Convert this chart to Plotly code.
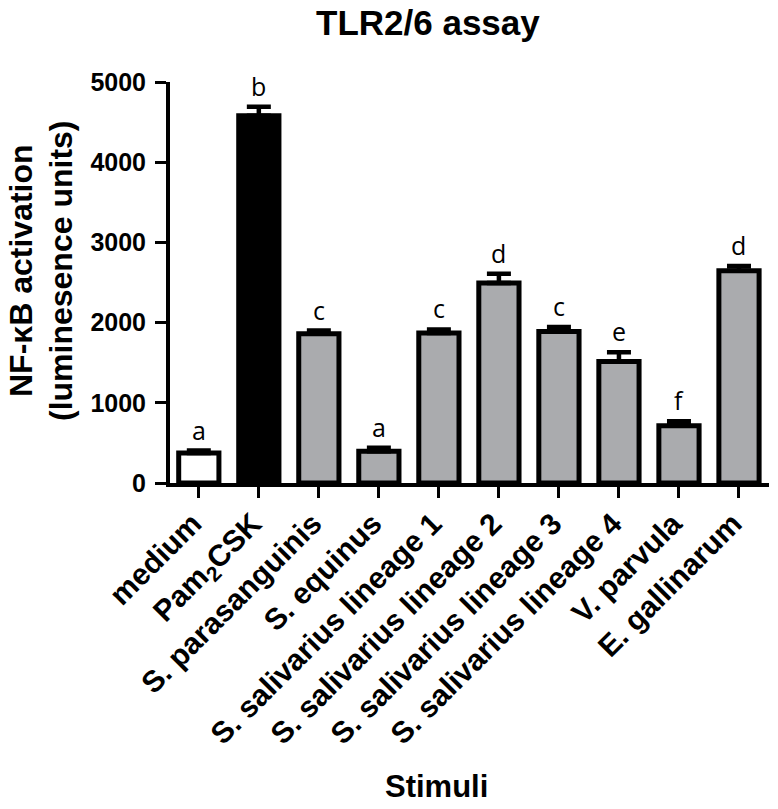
import plotly.graph_objects as go

categories = ["medium", "Pam<sub>2</sub>CSK", "S. parasanguinis", "S. equinus",
              "S. salivarius lineage 1", "S. salivarius lineage 2",
              "S. salivarius lineage 3", "S. salivarius lineage 4",
              "V. parvula", "E. gallinarum"]
values = [375, 4580, 1860, 395, 1870, 2495, 1890, 1515, 715, 2645]
errors = [30, 110, 40, 45, 45, 115, 55, 115, 55, 60]
letters = ["a", "b", "c", "a", "c", "d", "c", "e", "f", "d"]
bar_colors = ["#ffffff", "#000000", "#aaabae", "#aaabae", "#aaabae",
              "#aaabae", "#aaabae", "#aaabae", "#aaabae", "#aaabae"]
y_ticks = [0, 1000, 2000, 3000, 4000, 5000]
y_title_lines = ["NF-κB activation", "(luminesence units)"]

x_idx = list(range(len(categories)))
BOLD = "Liberation Sans"

fig = go.Figure()
fig.add_trace(go.Bar(
    x=x_idx, y=values, width=0.67,
    marker=dict(color=bar_colors, line=dict(color="black", width=5)),
    error_y=dict(type="data", symmetric=False, array=errors,
                 arrayminus=[0] * len(errors), color="black",
                 thickness=4.5, width=12),
    showlegend=False,
))

for i, (v, e, l) in enumerate(zip(values, errors, letters)):
    fig.add_annotation(x=i, y=v + e, text=l, showarrow=False,
                       xanchor="center", yanchor="bottom", yshift=2,
                       font=dict(family="Open Sans", size=25, color="black"))

for px, line in zip([21, 61], y_title_lines):
    fig.add_annotation(x=(px - 170) / 599, y=(483 - 271) / 401, xref="paper", yref="paper",
                       text=line, textangle=-90, showarrow=False,
                       xanchor="center", yanchor="middle",
                       font=dict(family=BOLD, size=32, color="black", weight="bold"))

fig.add_annotation(x=(428 - 170) / 599, y=1 + (82 - 23) / 401, xref="paper", yref="paper",
                   text="TLR2/6 assay", showarrow=False, xanchor="center", yanchor="middle",
                   font=dict(family=BOLD, size=35, color="black", weight="bold"))

fig.add_annotation(x=(436 - 170) / 599, y=-(787 - 483) / 401, xref="paper", yref="paper",
                   text="Stimuli", showarrow=False, xanchor="center", yanchor="middle",
                   font=dict(family=BOLD, size=31, color="black", weight="bold"))

fig.update_layout(
    width=778, height=809,
    margin=dict(l=170, r=9, t=82, b=326, autoexpand=False),
    plot_bgcolor="white", paper_bgcolor="white",
    xaxis=dict(range=[-0.48, 9.5], tickmode="array", tickvals=x_idx, ticktext=categories,
               tickangle=-45, showline=True, linecolor="black", linewidth=4,
               ticks="outside", ticklen=11, tickwidth=3, tickcolor="black",
               ticklabelshift=-6, ticklabelstandoff=-4,
               showgrid=False, zeroline=False, automargin=False,
               tickfont=dict(family=BOLD, size=30, color="black", weight="bold")),
    yaxis=dict(range=[0, 5000], tickvals=y_ticks, showline=True, linecolor="black",
               linewidth=4, ticks="outside", ticklen=11, tickwidth=3, tickcolor="black",
               ticklabelstandoff=4,
               showgrid=False, zeroline=False, automargin=False,
               tickfont=dict(family=BOLD, size=25, color="black", weight="bold")),
)

fig.write_html("out.html", config={"displayModeBar": False},
               post_script="document.body.style.margin='0';document.body.style.overflow='hidden';")
